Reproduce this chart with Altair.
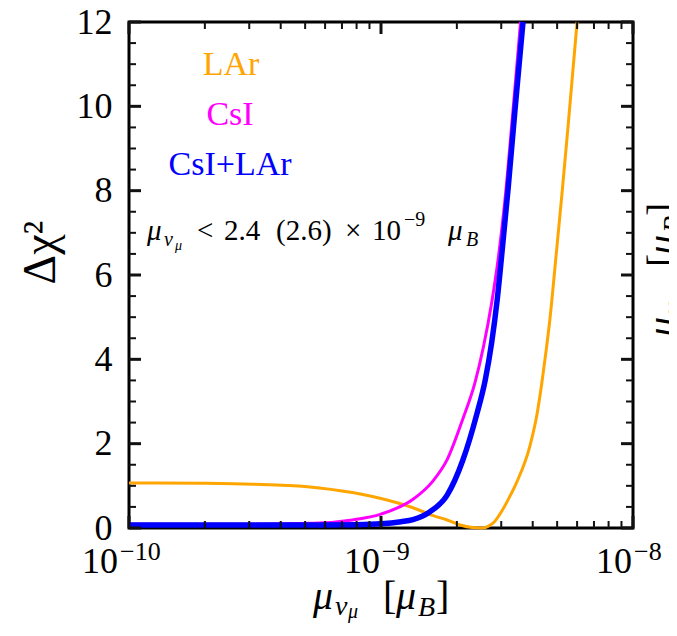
import altair as alt
import pandas as pd

SERIF = "Liberation Serif"

# ---------------- data ----------------
lar_mu = [1.0e-10, 2.0e-10, 3.1e-10, 5.1e-10, 7.7e-10, 1.0e-9, 1.34e-9, 1.6e-9, 1.83e-9,
          2.06e-9, 2.3e-9, 2.5e-9, 2.66e-9, 2.82e-9, 3.0e-9, 3.2e-9, 3.465e-9, 3.9e-9,
          4.16e-9, 4.35e-9, 4.52e-9, 4.68e-9, 4.95e-9, 5.23e-9, 5.52e-9, 6.0e-9]
lar_chi2 = [1.07, 1.06, 1.04, 0.98, 0.84, 0.70, 0.48, 0.30, 0.19,
            0.07, 0.01, 0.0, 0.04, 0.15, 0.38, 0.68, 1.1, 1.95,
            2.7, 3.45, 4.2, 4.95, 6.45, 7.95, 9.5, 12.0]

csi_mu = [1.0e-10, 3.0e-10, 5.4e-10, 7.7e-10, 1.0e-9, 1.34e-9, 1.6e-9, 1.83e-9, 2.11e-9,
          2.36e-9, 2.55e-9, 2.75e-9, 2.92e-9, 3.1e-9, 3.34e-9, 3.58e-9]
csi_chi2 = [0.09, 0.09, 0.11, 0.19, 0.33, 0.68, 1.1, 1.62, 2.58,
            3.45, 4.3, 5.35, 6.4, 7.75, 9.9, 12.0]

comb_mu = [1.0e-10, 5.0e-10, 8.0e-10, 1.0e-9, 1.2e-9, 1.34e-9, 1.56e-9, 1.83e-9, 2.11e-9,
           2.40e-9, 2.59e-9, 2.75e-9, 2.89e-9, 3.05e-9, 3.2e-9, 3.4e-9, 3.66e-9]
comb_chi2 = [0.07, 0.07, 0.08, 0.10, 0.15, 0.2, 0.38, 0.78, 1.6,
             2.7, 3.5, 4.4, 5.4, 6.8, 8.1, 9.9, 12.0]

series_names = ["LAr", "CsI", "CsI+LAr"]
series_colors = ["#FFA500", "#FF00FF", "#0000FF"]

x_major = [1e-10, 1e-9, 1e-8]
x_major_base = ["10", "10", "10"]
x_major_exp = ["\u221210", "\u22129", "\u22128"]
x_minor = [2e-10, 3e-10, 4e-10, 5e-10, 6e-10, 7e-10, 8e-10, 9e-10,
           2e-9, 3e-9, 4e-9, 5e-9, 6e-9, 7e-9, 8e-9, 9e-9]
y_major = [0, 2, 4, 6, 8, 10, 12]
y_minor = [0.5, 1, 1.5, 2.5, 3, 3.5, 4.5, 5, 5.5, 6.5, 7, 7.5,
           8.5, 9, 9.5, 10.5, 11, 11.5]

# ---------------- layout ----------------
W, H = 504, 506
PX0, PY0 = 129, 22  # page position of the plot origin
MAJ, MIN = 12, 7    # inward tick lengths (px)
X_LO, X_HI, Y_LO, Y_HI = 1e-10, 1e-8, 0.0, 12.0
DECADES = 2.0

xscale = alt.Scale(type="log", domain=[X_LO, X_HI], nice=False)
yscale = alt.Scale(domain=[Y_LO, Y_HI], nice=False, zero=False)

left_axis = alt.Axis(
    orient="left", values=y_major, ticks=False, domain=False, grid=False,
    labelFont=SERIF, labelFontSize=36, labelColor="black", labelPadding=17,
    labelFlush=False, labelOverlap=False,
    title="\u0394\u03c7\u00b2", titleFont=SERIF, titleFontSize=46,
    titleFontWeight="normal", titleColor="black", titlePadding=12, titleY=230)


def curve(mu, chi2, color, width, yaxis=None):
    df = pd.DataFrame({"mu": mu, "chi2": chi2})
    return alt.Chart(df).mark_line(
        color=color, strokeWidth=width, interpolate="monotone"
    ).encode(
        x=alt.X("mu:Q", scale=xscale, axis=None),
        y=alt.Y("chi2:Q", scale=yscale, axis=yaxis),
    )


l_lar = curve(lar_mu, lar_chi2, series_colors[0], 3, left_axis)
l_csi = curve(csi_mu, csi_chi2, series_colors[1], 3)
l_comb = curve(comb_mu, comb_chi2, series_colors[2], 5.5)


# ---------------- inward ticks: one two-point segment per tick ----------------
def seg(xs, ys, width):
    df = pd.DataFrame({"dx": xs, "dy": ys})
    return alt.Chart(df).mark_line(color="#111111", strokeWidth=width).encode(
        x=alt.X("dx:Q", scale=xscale, axis=None),
        y=alt.Y("dy:Q", scale=yscale, axis=None),
    )


def tick_segments(xvals, yvals, length, width):
    dy = length * (Y_HI - Y_LO) / H          # pixel length in y data units
    fx = 10 ** (length * DECADES / W)         # pixel length as a log-x factor
    out = []
    for v in xvals:
        out.append(seg([v, v], [Y_LO, Y_LO + dy], width))
        out.append(seg([v, v], [Y_HI, Y_HI - dy], width))
    for v in yvals:
        out.append(seg([X_LO, X_LO * fx], [v, v], width))
        out.append(seg([X_HI / fx, X_HI], [v, v], width))
    return out


tick_layers = (tick_segments(x_major, y_major, MAJ, 3)
               + tick_segments(x_minor, y_minor, MIN, 2))

# x tick labels 10^{-n}
lab_df = pd.DataFrame({"v": x_major, "base": x_major_base, "exp": x_major_exp})


def xlabels(df, shift):
    base = alt.Chart(df).mark_text(
        align="right", baseline="alphabetic", font=SERIF, fontSize=36,
        color="black", dx=shift
    ).encode(x=alt.X("v:Q", scale=xscale, axis=None), y=alt.value(573 - PY0),
             text="base:N")
    exp = alt.Chart(df).mark_text(
        align="left", baseline="alphabetic", font=SERIF, fontSize=26,
        color="black", dx=shift + 2
    ).encode(x=alt.X("v:Q", scale=xscale, axis=None), y=alt.value(560 - PY0),
             text="exp:N")
    return [base, exp]


label_layers = xlabels(lab_df.iloc[:1], -11) + xlabels(lab_df.iloc[1:], -1)

anchor = pd.DataFrame({"a": [0]})


def txt(s, px, py, size, color="black", italic=False, angle=None, align="left"):
    kw = dict(text=s, fontSize=size, font=SERIF, color=color, align=align,
              baseline="alphabetic", fontStyle="italic" if italic else "normal")
    if angle is not None:
        kw["angle"] = angle
    return alt.Chart(anchor).mark_text(**kw).encode(
        x=alt.value(px - PX0), y=alt.value(py - PY0))


# legend-like series labels
legend_layers = [
    txt(series_names[0], 231, 75, 34, series_colors[0], align="center"),
    txt(series_names[1], 230, 125, 34, series_colors[1], align="center"),
    txt(series_names[2], 230, 175, 34, series_colors[2], align="center"),
]

# annotation: mu_{nu_mu} < 2.4 (2.6) x 10^-9 mu_B
annot_layers = [
    txt("\u03bc", 147, 240, 29, italic=True),
    txt("\u03bd", 164, 246, 20, italic=True),
    txt("\u03bc", 175, 250, 14, italic=True),
    txt("<", 197, 240, 29),
    txt("2.4", 224, 240, 29),
    txt("(2.6)", 276, 240, 29),
    txt("\u00d7", 345, 240, 29),
    txt("10", 372, 240, 29),
    txt("\u22129", 404, 226, 20),
    txt("\u03bc", 448, 240, 29, italic=True),
    txt("B", 466, 246, 20, italic=True),
]

# x-axis title: mu_{nu_mu} [mu_B]
xtitle_layers = [
    txt("\u03bc", 313, 609, 40, italic=True),
    txt("\u03bd", 335, 615, 28, italic=True),
    txt("\u03bc", 348, 618, 20, italic=True),
    txt("[", 383, 609, 40),
    txt("\u03bc", 396, 609, 40, italic=True),
    txt("B", 418, 616, 28, italic=True),
    txt("]", 436, 609, 40),
]

# fragment of the neighbouring panel's axis title (cut by the edge)
frag_layers = [
    txt("\u03bc", 675, 337, 40, italic=True, angle=270),
    txt("\u03bd", 682, 314, 28, italic=True, angle=270),
    txt("[", 675, 267, 40, angle=270),
    txt("\u03bc", 675, 255, 40, italic=True, angle=270),
    txt("B", 682, 233, 28, italic=True, angle=270),
    txt("]", 675, 216, 40, angle=270),
]

chart = alt.layer(
    l_lar, l_csi, l_comb, *tick_layers,
    *label_layers, *legend_layers, *annot_layers, *xtitle_layers, *frag_layers,
).resolve_axis(
    x="independent", y="independent"
).properties(
    width=W, height=H,
    autosize=alt.AutoSizeParams(type="none"),
    padding={"left": PX0 - 8, "top": PY0 - 8, "right": 36, "bottom": 96},
    background="white",
).configure_view(
    stroke="black", strokeWidth=3
).configure_axis(
    grid=False
)

chart.save("out.html", embed_options={"renderer": "svg", "actions": False})
